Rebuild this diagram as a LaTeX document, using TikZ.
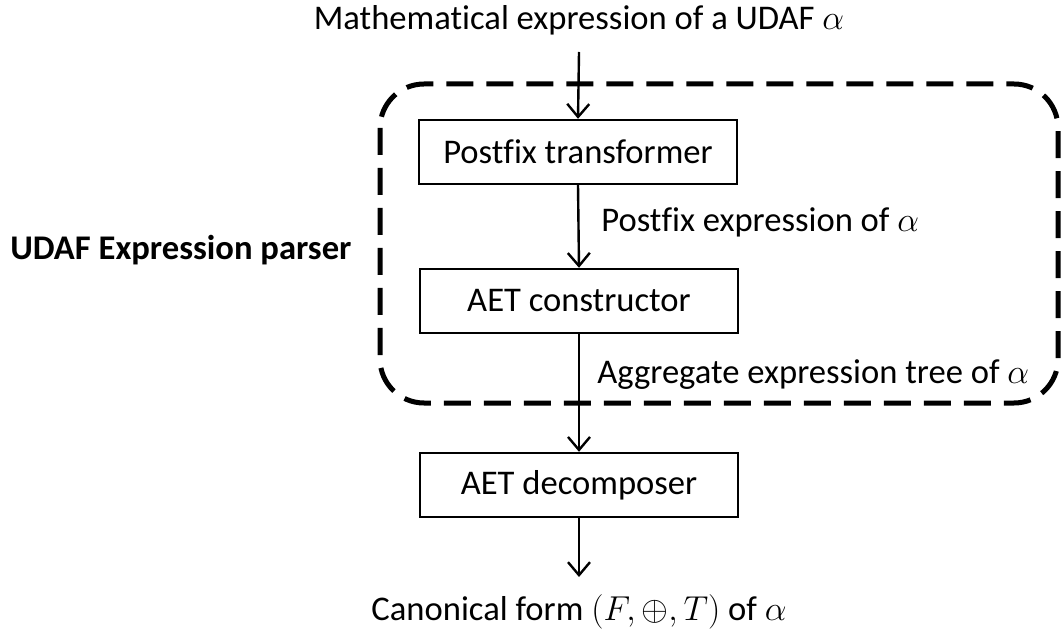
\documentclass[tikz,border=0pt]{standalone}
\usepackage{fontspec}
\setmainfont[Ligatures=NoCommon]{Carlito}
\usetikzlibrary{arrows.meta}
\begin{document}
\begin{tikzpicture}[x=0.5pt,y=-0.5pt,
  every node/.style={font=\fontsize{17.3}{20}\selectfont, inner sep=0pt},
  procbox/.style={draw, line width=1.2pt, minimum width=159pt, minimum height=32pt},
  flow/.style={line width=1.2pt, -{Straight Barb[length=6.5pt,width=11pt,line width=1.2pt]}},
  group/.style={draw, line width=2.5pt, dash pattern=on 13.5pt off 6.5pt, rounded corners=22pt}]
\useasboundingbox (0,0) rectangle (1064,630);
\draw[group] (380,84) rectangle (1058,403);
\node (top) at (579,20) {Mathematical expression of a UDAF $\alpha$};
\coordinate (inStart) at (579,52);
\node[procbox] (pt) at (578,152) {Postfix transformer};
\node[procbox] (ac) at (579,301) {AET constructor};
\node[procbox] (ad) at (579,485) {AET decomposer};
\coordinate (outEnd) at (579,577);
\node[anchor=west] (lbl1) at (601,222) {Postfix expression of $\alpha$};
\node[anchor=west] (lbl2) at (597,375) {Aggregate expression tree of $\alpha$};
\node (canon) at (579,612) {Canonical form $(F,\oplus,T)$ of $\alpha$};
\node[anchor=west, font=\fontsize{17.3}{20}\selectfont\bfseries] (parser) at (10,250) {UDAF Expression parser};
\draw[flow] (inStart) -- (pt.north);
\draw[flow] (pt.south) -- (ac.north);
\draw[flow] (ac.south) -- (ad.north);
\draw[flow] (ad.south) -- (outEnd);
\end{tikzpicture}
\end{document}
